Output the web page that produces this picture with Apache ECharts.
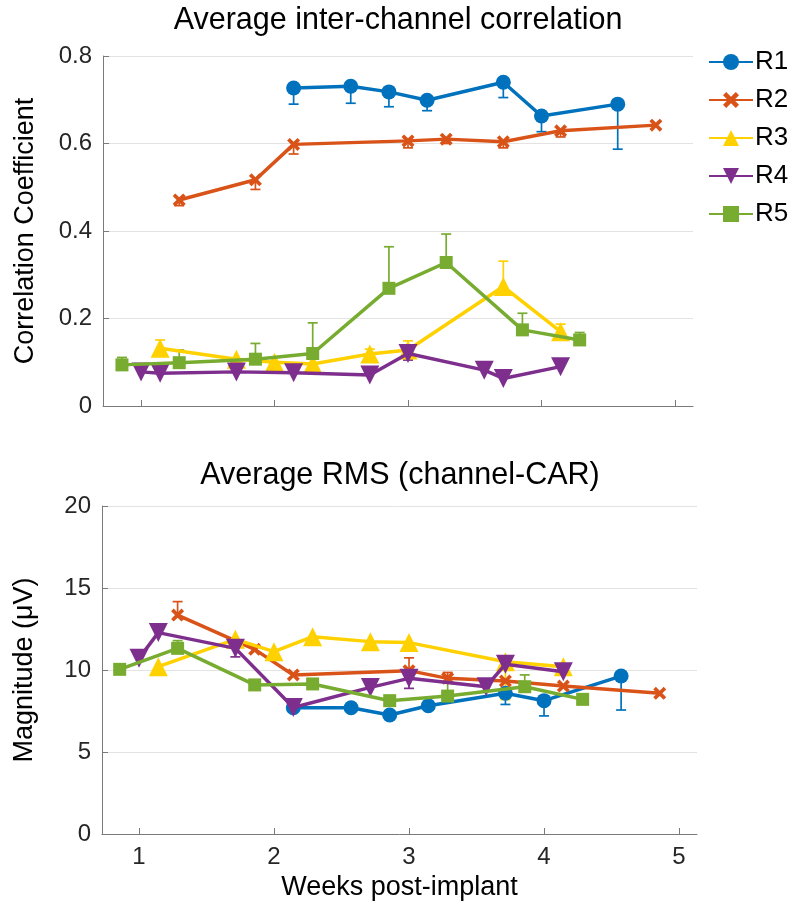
<!DOCTYPE html>
<html>
<head>
<meta charset="utf-8">
<script src="https://cdn.jsdelivr.net/npm/echarts@6/dist/echarts.min.js"></script>
<style>
  html, body { margin: 0; padding: 0; background: #fff; }
  #chart { width: 793px; height: 905px; }
</style>
</head>
<body>
<div id="chart"></div>
<script>
// Recording sessions, in weeks after implant, for each rat
const weeksR1 = [2.143, 2.571, 2.857, 3.143, 3.714, 4.0, 4.571];
const weeksR2 = [1.286, 1.857, 2.143, 3.0, 3.286, 3.714, 4.143, 4.857];
const weeksR3 = [1.143, 1.714, 2.0, 2.286, 2.714, 3.0, 3.714, 4.143];
const weeksR4 = [1.0, 1.143, 1.714, 2.143, 2.714, 3.0, 3.571, 3.714, 4.143];
const weeksR5 = [0.857, 1.286, 1.857, 2.286, 2.857, 3.286, 3.857, 4.286];

// Average inter-channel correlation, and the end of each error bar (null = none)
const corrR1 = [0.727, 0.731, 0.718, 0.699, 0.740, 0.663, 0.690];
const corrErrR1 = [0.690, 0.692, 0.684, 0.675, 0.705, 0.627, 0.587];
const corrR2 = [0.471, 0.517, 0.598, 0.606, 0.610, 0.604, 0.629, 0.642];
const corrErrR2 = [0.458, 0.495, 0.576, 0.590, 0.600, 0.590, 0.615, null];
const corrR3 = [0.132, 0.107, 0.100, 0.096, 0.119, 0.128, 0.273, 0.170];
const corrErrR3 = [0.151, null, null, null, 0.130, 0.149, 0.331, 0.187];
const corrR4 = [0.078, 0.075, 0.078, 0.076, 0.071, 0.120, 0.082, 0.063, 0.090];
const corrErrR4 = [null, null, null, null, null, 0.105, null, null, null];
const corrR5 = [0.094, 0.099, 0.107, 0.120, 0.269, 0.328, 0.174, 0.151];
const corrErrR5 = [0.111, 0.128, 0.143, 0.190, 0.364, 0.393, 0.212, 0.168];

// Average RMS (channel - CAR), in microvolts, with error bar ends
const rmsR1 = [7.70, 7.70, 7.26, 7.82, 8.58, 8.13, 9.63];
const rmsErrR1 = [null, null, null, null, 7.90, 7.20, 7.56];
const rmsR2 = [13.35, 11.26, 9.70, 9.96, 9.49, 9.33, 9.02, 8.58];
const rmsErrR2 = [14.17, null, null, 10.74, 9.85, null, null, null];
const rmsR3 = [10.20, 11.87, 11.12, 12.03, 11.73, 11.67, 10.50, 10.20];
const rmsErrR3 = [null, null, null, 11.52, null, 11.18, 8.20, null];
const rmsR4 = [10.71, 12.28, 11.32, 7.71, 8.94, 9.49, 8.98, 10.35, 9.90];
const rmsErrR4 = [null, null, 10.80, null, null, 8.88, null, null, null];
const rmsR5 = [10.04, 11.32, 9.09, 9.15, 8.13, 8.41, 8.98, 8.21];
const rmsErrR5 = [null, 11.79, null, null, null, 9.23, 9.70, null];

// Axis ticks
const weekTicks = [1, 2, 3, 4, 5];
const seriesNames = ['R1', 'R2', 'R3', 'R4', 'R5'];

const FONT = '"Liberation Sans", Arial, Helvetica, sans-serif';
const colors = ['#0072BD', '#D95319', '#FFD100', '#7E2F8E', '#77AC30'];
const crossPath = 'path://M0,2 L2,0 L5,3 L8,0 L10,2 L7,5 L10,8 L8,10 L5,7 L2,10 L0,8 L3,5 Z';
const markers = [
  { symbol: 'circle', size: 15, rotate: 0 },
  { symbol: crossPath, size: 13, rotate: 0 },
  { symbol: 'triangle', size: 19, rotate: 0 },
  { symbol: 'triangle', size: 19, rotate: 180 },
  { symbol: 'rect', size: 13, rotate: 0 }
];

const weeks = [weeksR1, weeksR2, weeksR3, weeksR4, weeksR5];
const corr = [corrR1, corrR2, corrR3, corrR4, corrR5];
const corrErr = [corrErrR1, corrErrR2, corrErrR3, corrErrR4, corrErrR5];
const rms = [rmsR1, rmsR2, rmsR3, rmsR4, rmsR5];
const rmsErr = [rmsErrR1, rmsErrR2, rmsErrR3, rmsErrR4, rmsErrR5];

const axisGray = '#7a7a7a';
const labelColor = '#262626';

function xAxisFor(gridIndex, min, max, showLabels) {
  return {
    type: 'value', gridIndex, min, max,
    axisLine: { show: true, lineStyle: { color: axisGray, width: 1 } },
    axisTick: { show: true, inside: true, length: 6, customValues: weekTicks, lineStyle: { color: axisGray } },
    axisLabel: {
      show: showLabels, customValues: weekTicks, margin: 11,
      fontFamily: FONT, fontSize: 24, color: labelColor
    },
    splitLine: { show: false },
    name: showLabels ? 'Weeks post-implant' : '',
    nameLocation: 'middle', nameGap: 40,
    nameTextStyle: { fontFamily: FONT, fontSize: 27, color: '#000' }
  };
}

function yAxisFor(gridIndex, min, max, interval, name) {
  return {
    type: 'value', gridIndex, min, max, interval,
    axisLine: { show: true, lineStyle: { color: axisGray, width: 1 } },
    axisTick: { show: true, inside: true, length: 6, lineStyle: { color: axisGray } },
    axisLabel: { margin: 11, fontFamily: FONT, fontSize: 24, color: labelColor },
    splitLine: { show: true, lineStyle: { color: '#e3e3e3', width: 1 } },
    name, nameLocation: 'middle', nameGap: 64, nameRotate: 90,
    nameTextStyle: { fontFamily: FONT, fontSize: 27, color: '#000' }
  };
}

function lineSeries(i, axisIndex, values) {
  return {
    name: seriesNames[i], type: 'line',
    xAxisIndex: axisIndex, yAxisIndex: axisIndex,
    data: weeks[i].map((w, k) => [w, values[k]]),
    symbol: markers[i].symbol, symbolSize: markers[i].size, symbolRotate: markers[i].rotate,
    showAllSymbol: true,
    lineStyle: { color: colors[i], width: 3.5 },
    itemStyle: { color: colors[i], borderWidth: 0 },
    emphasis: { disabled: true },
    animation: false, z: 3 + i
  };
}

function errorSeries(i, axisIndex, values, ends) {
  const data = [];
  weeks[i].forEach((w, k) => {
    if (ends[k] !== null) data.push([w, values[k], ends[k]]);
  });
  return {
    name: seriesNames[i] + ' error', type: 'custom',
    xAxisIndex: axisIndex, yAxisIndex: axisIndex,
    data, animation: false, z: 2,
    encode: { x: 0, y: [1, 2] },
    renderItem: (params, api) => {
      const p0 = api.coord([api.value(0), api.value(1)]);
      const p1 = api.coord([api.value(0), api.value(2)]);
      const half = 5;
      const style = { stroke: colors[i], lineWidth: 1.7 };
      return {
        type: 'group',
        children: [
          { type: 'line', shape: { x1: p0[0], y1: p0[1], x2: p1[0], y2: p1[1] }, style },
          { type: 'line', shape: { x1: p1[0] - half, y1: p1[1], x2: p1[0] + half, y2: p1[1] }, style }
        ]
      };
    }
  };
}

const series = [];
for (let i = 0; i < 5; i++) {
  series.push(errorSeries(i, 0, corr[i], corrErr[i]));
  series.push(errorSeries(i, 1, rms[i], rmsErr[i]));
}
for (let i = 0; i < 5; i++) {
  series.push(lineSeries(i, 0, corr[i]));
  series.push(lineSeries(i, 1, rms[i]));
}

const chart = echarts.init(document.getElementById('chart'), null, { renderer: 'canvas' });
chart.setOption({
  backgroundColor: '#fff',
  animation: false,
  title: [
    { text: 'Average inter-channel correlation', left: 393, top: 0, textAlign: 'center',
      textStyle: { fontFamily: FONT, fontSize: 30.5, fontWeight: 'normal', color: '#000' } },
    { text: 'Average RMS (channel-CAR)', left: 395, top: 455, textAlign: 'center',
      textStyle: { fontFamily: FONT, fontSize: 30.5, fontWeight: 'normal', color: '#000' } }
  ],
  legend: {
    data: seriesNames, orient: 'vertical', left: 703, top: 44,
    itemWidth: 44, itemHeight: 20, itemGap: 12,
    textStyle: { fontFamily: FONT, fontSize: 26, color: '#000', lineHeight: 26, padding: [0, 0, 0, -3] },
    selectedMode: false
  },
  grid: [
    { left: 103, top: 56, width: 590, height: 350 },
    { left: 102, top: 506, width: 595, height: 328 }
  ],
  xAxis: [
    xAxisFor(0, 0.715, 5.135, false),
    xAxisFor(1, 0.726, 5.133, true)
  ],
  yAxis: [
    yAxisFor(0, 0, 0.8, 0.2, 'Correlation Coefficient'),
    yAxisFor(1, 0, 20, 5, 'Magnitude (\u03bcV)')
  ],
  series
});
</script>
</body>
</html>
